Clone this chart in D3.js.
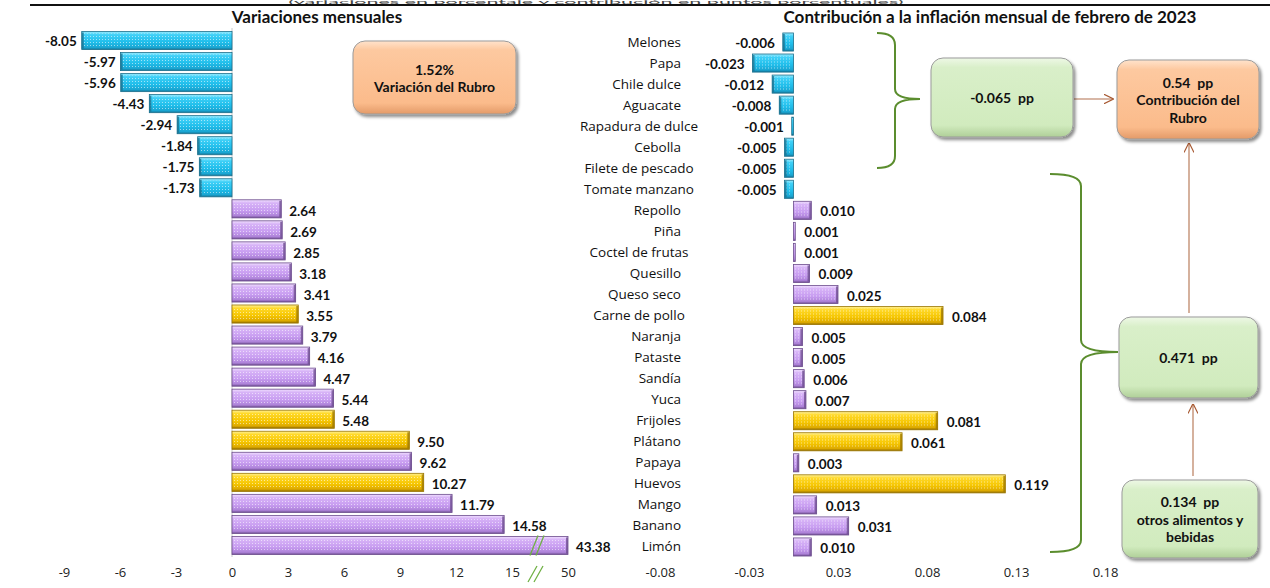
<!DOCTYPE html>
<html><head><meta charset="utf-8">
<script src="https://cdn.jsdelivr.net/npm/d3@7"></script>
<style>
html,body{margin:0;padding:0;background:#fff;}
svg{display:block;font-family:Lato,"Noto Sans",sans-serif;}
</style></head>
<body>
<svg id="chart" width="1270" height="588"></svg>
<script>
const categories = ["Melones","Papa","Chile dulce","Aguacate","Rapadura de dulce","Cebolla","Filete de pescado","Tomate manzano","Repollo","Piña","Coctel de frutas","Quesillo","Queso seco","Carne de pollo","Naranja","Pataste","Sandía","Yuca","Frijoles","Plátano","Papaya","Huevos","Mango","Banano","Limón"];
const variation = [-8.05,-5.97,-5.96,-4.43,-2.94,-1.84,-1.75,-1.73,2.64,2.69,2.85,3.18,3.41,3.55,3.79,4.16,4.47,5.44,5.48,9.50,9.62,10.27,11.79,14.58,43.38];
const contribution = [-0.006,-0.023,-0.012,-0.008,-0.001,-0.005,-0.005,-0.005,0.010,0.001,0.001,0.009,0.025,0.084,0.005,0.005,0.006,0.007,0.081,0.061,0.003,0.119,0.013,0.031,0.010];
const highlighted = ["Carne de pollo","Frijoles","Plátano","Huevos"];
const leftTicks = [-9,-6,-3,0,3,6,9,12,15,18];
const leftTickLabels = ["-9","-6","-3","0","3","6","9","12","15","50"];
const rightTicks = [-0.075,-0.025,0.025,0.075,0.125,0.175];
const rightTickLabels = ["-0.08","-0.03","0.03","0.08","0.13","0.18"];
const headerText = "(variaciones en porcentaje y contribución en puntos porcentuales)";
const leftTitle = "Variaciones mensuales";
const rightTitle = "Contribución a la inflación mensual de febrero de 2023";
const boxRubro = ["1.52%","Variación del Rubro"];
const boxNeg = ["-0.065  pp"];
const boxContrib = ["0.54  pp","Contribución del","Rubro"];
const boxPos = ["0.471  pp"];
const boxOtros = ["0.134  pp","otros alimentos y","bebidas"];

const svg = d3.select("#chart");
const defs = svg.append("defs");

function grad(id, stops){
  const g = defs.append("linearGradient").attr("id",id).attr("x1",0).attr("y1",0).attr("x2",0).attr("y2",1);
  stops.forEach(s=>g.append("stop").attr("offset",s[0]).attr("stop-color",s[1]));
}
grad("gCyan",[[0,"#9becff"],[0.18,"#3fd0f7"],[0.6,"#1fbdea"],[0.88,"#1aa6d2"],[1,"#15779a"]]);
grad("gPurple",[[0,"#f1e0ff"],[0.18,"#d7b3f7"],[0.6,"#c79cf0"],[0.88,"#ad82d8"],[1,"#6f4e92"]]);
grad("gYellow",[[0,"#fff29a"],[0.18,"#ffd92a"],[0.6,"#f5c500"],[0.88,"#dca900"],[1,"#8f6c00"]]);
grad("gOrange",[[0,"#ffe3cc"],[0.12,"#fdc9a0"],[0.85,"#fbbb8b"],[1,"#e39a68"]]);
grad("gGreen",[[0,"#eef8e6"],[0.12,"#d9efc9"],[0.85,"#d1ebbe"],[1,"#afcf98"]]);

const pat = defs.append("pattern").attr("id","dots").attr("width",3).attr("height",3).attr("patternUnits","userSpaceOnUse");
pat.append("rect").attr("x",0).attr("y",0).attr("width",1).attr("height",1).attr("fill","#ffffff").attr("opacity",0.55);

const f = defs.append("filter").attr("id","shadow").attr("x","-10%").attr("y","-10%").attr("width","125%").attr("height","130%");
f.append("feDropShadow").attr("dx",2).attr("dy",2.5).attr("stdDeviation",1.8).attr("flood-color","#000").attr("flood-opacity",0.45);

defs.append("marker").attr("id","arrow").attr("viewBox","0 0 10 10").attr("refX",9.5).attr("refY",5)
  .attr("markerWidth",10).attr("markerHeight",10).attr("markerUnits","userSpaceOnUse").attr("orient","auto")
  .append("path").attr("d","M0,0 L10,5 L0,10").attr("fill","none").attr("stroke","#a85a33").attr("stroke-width",1.2);

// header (mostly hidden above the rule in the original)
svg.append("text").attr("x",596).attr("y",3.6).attr("text-anchor","middle").attr("font-size",5)
  .attr("textLength",615).attr("lengthAdjust","spacingAndGlyphs").attr("fill","#444").text(headerText);
svg.append("rect").attr("x",30).attr("y",4).attr("width",1240).attr("height",2).attr("fill","#111");

// titles
svg.append("text").attr("x",317).attr("y",23).attr("text-anchor","middle").attr("font-size",17).attr("font-weight","bold").attr("fill","#111").text(leftTitle);
svg.append("text").attr("x",990).attr("y",23).attr("text-anchor","middle").attr("font-size",17).attr("font-weight","bold").attr("fill","#111").text(rightTitle);

const y = d3.scaleBand().domain(categories).range([30,556]).paddingInner(0.14).paddingOuter(0.07);
const xL = d3.scaleLinear().domain([-9,18]).range([64,568]).clamp(true);
const xR = d3.scaleLinear().domain([-0.075,0.175]).range([660,1105]);

const data = categories.map((c,i)=>({c, v:variation[i], k:contribution[i]}));
function fillOf(d, val){ return val<0 ? "url(#gCyan)" : (highlighted.includes(d.c) ? "url(#gYellow)" : "url(#gPurple)"); }
function strokeOf(d, val){ return val<0 ? "#1b6f8c" : (highlighted.includes(d.c) ? "#9b7600" : "#6b4b8c"); }

// zero line left
svg.append("line").attr("x1",xL(0)).attr("x2",xL(0)).attr("y1",28).attr("y2",557).attr("stroke","#c8c8c8").attr("stroke-width",1);

function drawBars(g, x, key, dy){
  const sel = g.selectAll("g.bar").data(data).join("g").attr("class","bar").attr("transform",`translate(0,${dy})`);
  sel.append("rect")
    .attr("x",d=>Math.min(x(0),x(d[key])))
    .attr("y",d=>y(d.c))
    .attr("width",d=>Math.max(1.2,Math.abs(x(d[key])-x(0))))
    .attr("height",y.bandwidth())
    .attr("fill",d=>fillOf(d,d[key]))
    .attr("stroke",d=>strokeOf(d,d[key])).attr("stroke-width",0.8);
  sel.append("rect")
    .attr("x",d=>Math.min(x(0),x(d[key]))+1)
    .attr("y",d=>y(d.c)+2)
    .attr("width",d=>Math.max(0,Math.abs(x(d[key])-x(0))-3))
    .attr("height",y.bandwidth()-5)
    .attr("fill","url(#dots)");
  sel.append("rect")
    .attr("x",d=>d[key]<0 ? x(d[key]) : x(d[key])-2)
    .attr("y",d=>y(d.c)+1)
    .attr("width",d=>Math.abs(x(d[key])-x(0))>3?2:0)
    .attr("height",y.bandwidth()-2)
    .attr("fill",d=>strokeOf(d,d[key])).attr("opacity",0.75);
}
const gL = svg.append("g");
drawBars(gL, xL, "v", 0);
const gR = svg.append("g");
drawBars(gR, xR, "k", 1.5);

// value labels
const lblStyle = s=>s.attr("font-size",13.5).attr("font-weight","bold").attr("fill","#111").attr("dominant-baseline","central");
svg.append("g").selectAll("text").data(data).join("text")
  .attr("x",d=>d.v<0 ? xL(d.v)-5 : xL(d.v)+8)
  .attr("y",d=>y(d.c)+y.bandwidth()/2+ (d.v<0?0:2))
  .attr("text-anchor",d=>d.v<0?"end":"start")
  .call(lblStyle).text(d=>d.v.toFixed(2));
svg.append("g").selectAll("text").data(data).join("text")
  .attr("x",d=>d.k<0 ? xR(d.k)-8 : xR(d.k)+9)
  .attr("y",d=>y(d.c)+y.bandwidth()/2+2.5)
  .attr("text-anchor",d=>d.k<0?"end":"start")
  .call(lblStyle).text(d=>d.k.toFixed(3));

// category labels: right aligned, but centred when long
const catG = svg.append("g");
catG.selectAll("text").data(categories).join("text")
  .attr("y",c=>y(c)+y.bandwidth()/2+1)
  .attr("dominant-baseline","central")
  .attr("font-family","'Open Sans',sans-serif")
  .attr("font-size",13.5).attr("fill","#111")
  .text(c=>c)
  .each(function(){
    const w = this.getComputedTextLength();
    d3.select(this).attr("x", Math.max(681-w, 639-w/2));
  });

// axes (labels only)
const axL = svg.append("g").attr("transform","translate(0,568)")
  .call(d3.axisBottom(xL).tickValues(leftTicks).tickFormat((d,i)=>leftTickLabels[i]).tickSize(0).tickPadding(0));
axL.select(".domain").remove();
axL.selectAll("text").attr("font-size",13).attr("fill","#222").attr("font-family","'Open Sans',sans-serif").attr("dy","0.72em");
const axR = svg.append("g").attr("transform","translate(0,568)")
  .call(d3.axisBottom(xR).tickValues(rightTicks).tickFormat((d,i)=>rightTickLabels[i]).tickSize(0).tickPadding(0));
axR.select(".domain").remove();
axR.selectAll("text").attr("font-size",13).attr("fill","#222").attr("font-family","'Open Sans',sans-serif").attr("dy","0.72em");

// axis break marks
const brk = svg.append("g").attr("stroke","#6fb043").attr("stroke-width",1.3);
const lastY = y(categories[categories.length-1]);
[0,6].forEach(o=>{
  brk.append("line").attr("x1",530+o).attr("y1",lastY+y.bandwidth()+1).attr("x2",538+o).attr("y2",lastY-1);
  brk.append("line").attr("x1",528+o).attr("y1",582).attr("x2",537+o).attr("y2",566);
});

// braces
const brace = svg.append("g").attr("fill","none").attr("stroke","#5b8d2e").attr("stroke-width",2);
brace.append("path").attr("d","M877,33 Q895,33 895,45 L895,89 Q895,99 920,99 Q895,99 895,109 L895,156 Q895,168 877,168");
brace.append("path").attr("d","M1050,174 Q1081,174 1081,186 L1081,340 Q1081,352 1118,352 Q1081,352 1081,364 L1081,540 Q1081,552 1050,552");

// arrows
const arr = svg.append("g").attr("stroke","#b2714e").attr("stroke-width",1.1).attr("fill","none");
arr.append("line").attr("x1",1074).attr("y1",99).attr("x2",1113).attr("y2",99).attr("marker-end","url(#arrow)");
arr.append("line").attr("x1",1189).attr("y1",313).attr("x2",1189).attr("y2",143).attr("marker-end","url(#arrow)");
arr.append("line").attr("x1",1193).attr("y1",476).attr("x2",1193).attr("y2",404).attr("marker-end","url(#arrow)");

// boxes
function box(x0,y0,w,h,fill,lines,lineGap){
  const g = svg.append("g");
  g.append("rect").attr("x",x0).attr("y",y0).attr("width",w).attr("height",h).attr("rx",12).attr("ry",12)
    .attr("fill",fill).attr("stroke","#9b9b9b").attr("stroke-width",1).attr("filter","url(#shadow)");
  const cy = y0+h/2, n=lines.length;
  lines.forEach((t,i)=>{
    g.append("text").attr("x",x0+w/2).attr("y",cy+(i-(n-1)/2)*lineGap)
      .attr("text-anchor","middle").attr("dominant-baseline","central")
      .attr("font-size",14).attr("font-weight","bold").attr("fill","#111").attr("xml:space","preserve").text(t);
  });
}
box(353,41,163,73,"url(#gOrange)",boxRubro,17);
box(931,58,142,79,"url(#gGreen)",boxNeg,17);
box(1117,60,142,79,"url(#gOrange)",boxContrib,17.5);
box(1119,317,139,81,"url(#gGreen)",boxPos,17);
box(1122,480,136,78,"url(#gGreen)",boxOtros,17.5);
</script>
</body></html>
